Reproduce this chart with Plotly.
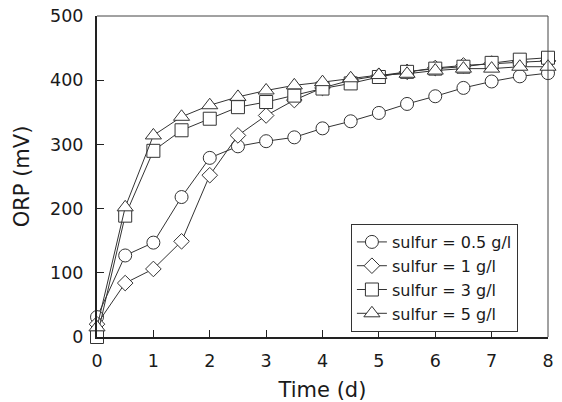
import plotly.graph_objects as go

time_d = [0, 0.5, 1, 1.5, 2, 2.5, 3, 3.5, 4, 4.5, 5, 5.5, 6, 6.5, 7, 7.5, 8]
orp_05 = [31, 127, 147, 218, 279, 297, 305, 311, 325, 336, 349, 363, 375, 388, 398, 406, 411]
orp_1 = [20, 84, 106, 149, 252, 314, 345, 369, 388, 400, 407, 413, 419, 423, 426, 428, 430]
orp_3 = [0, 189, 290, 322, 340, 358, 366, 376, 387, 395, 405, 413, 418, 421, 427, 432, 435]
orp_5 = [15, 202, 314, 343, 361, 374, 384, 392, 397, 403, 408, 410, 415, 418, 418, 421, 421]

series = [
    ("sulfur = 0.5 g/l", orp_05, "circle", 13),
    ("sulfur = 1 g/l", orp_1, "diamond", 12),
    ("sulfur = 3 g/l", orp_3, "square", 13),
    ("sulfur = 5 g/l", orp_5, "triangle-up", 14),
]

fig = go.Figure()
for name, vals, sym, sz in series:
    fig.add_trace(go.Scatter(
        x=time_d, y=vals, name=name, mode="lines+markers",
        line=dict(color="#333333", width=1),
        marker=dict(symbol=sym, size=sz, color="white",
                    line=dict(color="#333333", width=1)),
        cliponaxis=False,
    ))

fam = "DejaVu Sans, Liberation Sans, Arial, sans-serif"
font = dict(family=fam, size=17.5, color="#1a1a1a")
fig.update_layout(
    width=562, height=402,
    margin=dict(l=97, r=14, t=16, b=65),
    paper_bgcolor="white", plot_bgcolor="white",
    font=font,
    showlegend=True,
    legend=dict(x=0.563, y=0.352, xanchor="left", yanchor="top",
                bgcolor="white", bordercolor="#333333", borderwidth=1,
                font=dict(family=fam, size=16, color="#1a1a1a"),
                tracegroupgap=0, itemwidth=30),
    xaxis=dict(range=[0, 8], dtick=1, tick0=0, ticks="inside", ticklen=7,
               tickcolor="#222222", showgrid=False, zeroline=False,
               showline=True, linecolor="#222222", linewidth=2,
               ticklabelstandoff=7, automargin=False,
               title=dict(text="Time (d)", standoff=16)),
    yaxis=dict(range=[0, 500], dtick=100, tick0=0, ticks="inside", ticklen=7,
               tickcolor="#222222", showgrid=False, zeroline=False,
               showline=True, linecolor="#222222", linewidth=2,
               ticklabelstandoff=8, automargin=False,
               title=dict(text="ORP (mV)", standoff=15)),
    shapes=[
        dict(type="line", xref="paper", yref="paper", x0=0, x1=1, y0=1, y1=1,
             line=dict(color="#444444", width=1)),
        dict(type="line", xref="paper", yref="paper", x0=1, x1=1, y0=0, y1=1,
             line=dict(color="#444444", width=1)),
    ],
)

fig.write_html("out.html")
